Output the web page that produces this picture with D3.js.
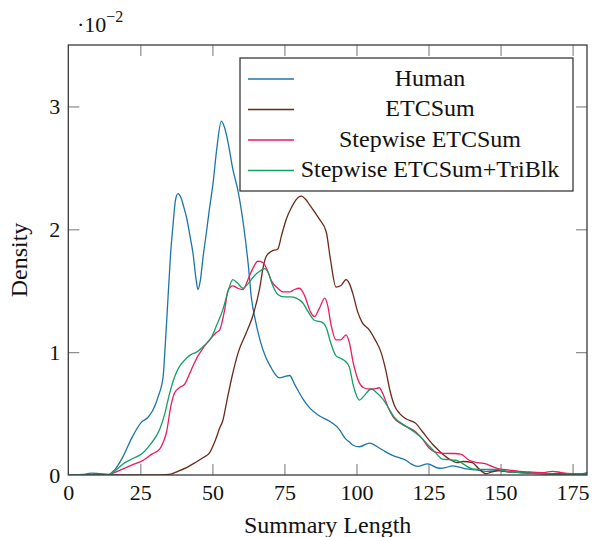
<!DOCTYPE html>
<html>
<head>
<meta charset="utf-8">
<script src="https://cdn.jsdelivr.net/npm/d3@7"></script>
<style>
  body { margin: 0; background: #fff; }
  svg text { font-family: "Liberation Serif", "Times New Roman", Times, "DejaVu Serif", serif !important; }
</style>
</head>
<body>
<div id="chart"></div>
<script>
// Density of summary lengths, pgfplots-style line chart.

const xTicks = [0, 25, 50, 75, 100, 125, 150, 175];
const yTicks = [0, 1, 2, 3];
const seriesNames = ['Human', 'ETCSum', 'Stepwise ETCSum', 'Stepwise ETCSum+TriBlk'];
const seriesColors = ['#1c75a8', '#6b2a18', '#ee1a5f', '#12a162'];

// Values in units of 10^-2.
const humanLength = [0, 5, 8, 11, 14, 16, 19, 22, 25.4, 27.7, 30, 31.2, 32.9, 33.5, 34.5, 35.5, 36.4, 37.2, 38.1, 39.2, 40.2, 41, 42.2, 43.3, 44.3, 45, 45.8, 46.8, 47.9, 49, 50.2, 51.5, 53.1, 54.2, 55.5, 57, 59, 61, 62.5, 63.5, 65, 66.5, 68.5, 70, 71.5, 73.3, 75, 76.8, 78.5, 81.4, 84, 87.2, 91.2, 94.1, 96, 97.5, 99, 101, 104.5, 107.9, 110, 112.5, 117.2, 119, 121.2, 124.7, 128.7, 131, 133.3, 138, 142, 145, 149.5, 153, 160, 170, 177, 180];
const humanDensity = [0, 0.005, 0.015, 0.01, 0.005, 0.04, 0.15, 0.3, 0.43, 0.47, 0.56, 0.64, 0.8, 1.0, 1.4, 1.8, 2.05, 2.24, 2.29, 2.25, 2.17, 2.1, 1.95, 1.8, 1.6, 1.51, 1.58, 1.78, 1.97, 2.17, 2.37, 2.65, 2.88, 2.83, 2.7, 2.5, 2.3, 2.0, 1.7, 1.45, 1.25, 1.1, 0.96, 0.89, 0.83, 0.79, 0.8, 0.81, 0.74, 0.62, 0.54, 0.48, 0.43, 0.37, 0.3, 0.27, 0.24, 0.23, 0.26, 0.22, 0.19, 0.16, 0.12, 0.09, 0.07, 0.09, 0.055, 0.06, 0.075, 0.05, 0.04, 0.03, 0.035, 0.025, 0.015, 0.01, 0.005, 0.02];

const etcLength = [0, 30, 35, 38, 41, 44, 46.7, 49, 51, 52.5, 53.7, 55, 57, 59, 61.8, 64.1, 66.4, 67.7, 68.7, 70.4, 72.7, 74, 75.6, 77.5, 79, 80.8, 82.5, 83.7, 85.5, 87.2, 89.5, 91, 92.9, 94.5, 96.4, 97.5, 98.7, 100.4, 102, 104.5, 106.5, 108.5, 110.2, 111.5, 113.1, 115, 117, 120.6, 123, 126.4, 129, 132.2, 135, 137, 140.2, 142.5, 144.9, 147, 149.5, 153, 159, 165, 172, 180];
const etcDensity = [0, 0, 0.005, 0.03, 0.06, 0.1, 0.14, 0.18, 0.28, 0.38, 0.45, 0.6, 0.82, 1.0, 1.16, 1.3, 1.52, 1.7, 1.78, 1.82, 1.84, 1.95, 2.08, 2.18, 2.24, 2.27, 2.24, 2.2, 2.14, 2.08, 1.98, 1.75, 1.53, 1.54, 1.59, 1.56, 1.48, 1.33, 1.24, 1.18, 1.1, 1.0, 0.85, 0.7, 0.57, 0.5, 0.46, 0.42, 0.35, 0.25, 0.19, 0.13, 0.1, 0.11, 0.1, 0.05, 0.01, 0.025, 0.035, 0.025, 0.02, 0.01, 0.01, 0.005];

const stepLength = [0, 14, 16, 19, 22, 26, 29, 31.7, 33, 34.1, 35.5, 36.9, 38.5, 40.4, 42, 43.5, 45, 47, 49, 51.4, 52.5, 54.3, 55.4, 57.1, 58.8, 60.6, 62.5, 64, 65.8, 67.5, 69, 70.5, 72.7, 74.5, 76.8, 78.5, 80.2, 82, 84, 85.4, 87, 89, 90, 91.2, 92.9, 94.5, 96.4, 97.5, 99, 101, 102.5, 104.5, 106, 107.9, 109, 111, 113.1, 116, 120.6, 123, 125.2, 128.7, 132, 134, 136.2, 139.1, 142, 144.9, 147, 149.5, 153, 156.5, 160, 165, 168, 171, 175, 180];
const stepDensity = [0, 0, 0.02, 0.05, 0.08, 0.12, 0.17, 0.21, 0.27, 0.35, 0.55, 0.67, 0.71, 0.74, 0.82, 0.9, 0.97, 1.04, 1.1, 1.16, 1.18, 1.35, 1.5, 1.54, 1.52, 1.51, 1.6, 1.68, 1.74, 1.73, 1.67, 1.58, 1.52, 1.49, 1.49, 1.51, 1.52, 1.46, 1.33, 1.29, 1.35, 1.44, 1.38, 1.22, 1.1, 1.1, 1.14, 1.08, 0.9, 0.75, 0.71, 0.7, 0.7, 0.71, 0.67, 0.55, 0.46, 0.41, 0.35, 0.29, 0.22, 0.18, 0.175, 0.175, 0.17, 0.12, 0.1, 0.09, 0.07, 0.05, 0.04, 0.03, 0.025, 0.02, 0.03, 0.02, 0.01, 0.005];

const triLength = [0, 14, 16, 19, 22, 25.4, 28.5, 31.7, 33.5, 35, 36.9, 38.5, 41, 42.5, 44.5, 47, 49.7, 51.5, 53.7, 55.5, 57.1, 58.8, 60.6, 62.5, 64.5, 66.5, 68.1, 69.5, 70.8, 72.7, 75, 77, 79.1, 81.4, 83.2, 85.4, 87, 88.3, 89.5, 91, 92.9, 94.5, 96.4, 97.5, 99, 101, 102.5, 105.1, 107, 109.1, 111, 113.1, 117, 121.8, 125, 127.5, 129.8, 132, 134.5, 137, 140.2, 144, 148.3, 152, 156.5, 165, 175, 180];
const triDensity = [0, 0, 0.03, 0.09, 0.13, 0.17, 0.25, 0.37, 0.5, 0.65, 0.8, 0.88, 0.95, 0.98, 1.0, 1.05, 1.12, 1.22, 1.35, 1.5, 1.59, 1.56, 1.52, 1.56, 1.62, 1.66, 1.68, 1.64, 1.55, 1.47, 1.45, 1.45, 1.44, 1.4, 1.33, 1.26, 1.25, 1.24, 1.2, 1.08, 0.97, 0.95, 0.92, 0.88, 0.72, 0.61, 0.64, 0.7, 0.67, 0.62, 0.55, 0.47, 0.4, 0.32, 0.24, 0.18, 0.13, 0.125, 0.12, 0.09, 0.05, 0.045, 0.045, 0.03, 0.02, 0.01, 0.005, 0.005];

const series = [
    { name: seriesNames[0], color: seriesColors[0], xs: humanLength, ys: humanDensity },
    { name: seriesNames[1], color: seriesColors[1], xs: etcLength, ys: etcDensity },
    { name: seriesNames[2], color: seriesColors[2], xs: stepLength, ys: stepDensity },
    { name: seriesNames[3], color: seriesColors[3], xs: triLength, ys: triDensity }
];

const width = 592;
const height = 537;
const margin = { top: 45, right: 5, bottom: 62, left: 68.3 };
const innerW = width - margin.left - margin.right;
const innerH = height - margin.top - margin.bottom;

const svg = d3.select('#chart')
    .append('svg')
    .attr('width', width)
    .attr('height', height);

const g = svg.append('g')
    .attr('transform', `translate(${margin.left},${margin.top})`);

const x = d3.scaleLinear().domain([0, 180]).range([0, innerW]);
const y = d3.scaleLinear().domain([0, 3.5]).range([innerH, 0]);

// Clip curves to the plot area.
svg.append('defs').append('clipPath')
    .attr('id', 'plot-clip')
    .append('rect')
    .attr('width', innerW)
    .attr('height', innerH);

// Axes with inward ticks on all four sides.
const tickLen = 11;
const tickColor = '#8a8a8a';
const fmt = d3.format('d');

const axisB = g.append('g')
    .attr('transform', `translate(0,${innerH})`)
    .call(d3.axisBottom(x).tickValues(xTicks).tickSize(-tickLen).tickPadding(9).tickFormat(fmt));
const axisT = g.append('g')
    .call(d3.axisTop(x).tickValues(xTicks).tickSize(-tickLen).tickFormat(''));
const axisL = g.append('g')
    .call(d3.axisLeft(y).tickValues(yTicks).tickSize(-tickLen).tickPadding(8).tickFormat(fmt));
const axisR = g.append('g')
    .attr('transform', `translate(${innerW},0)`)
    .call(d3.axisRight(y).tickValues(yTicks).tickSize(-tickLen).tickFormat(''));

[axisB, axisT, axisL, axisR].forEach(a => {
    a.attr('font-family', null);
    a.select('.domain').remove();
    a.selectAll('.tick line').attr('stroke', tickColor).attr('stroke-width', 1.2);
    a.selectAll('.tick text')
        .attr('fill', '#111')
        .style('font-size', '22px');
});

// Hide the tick marks at the very corners, like pgfplots.
axisB.selectAll('.tick').filter(d => d === 0).select('line').remove();
axisT.selectAll('.tick').filter(d => d === 0).remove();
axisL.selectAll('.tick').filter(d => d === 0).select('line').remove();
axisR.selectAll('.tick').filter(d => d === 0).remove();

// Curves.
const line = d3.line()
    .x(d => x(d[0]))
    .y(d => y(d[1]))
    .curve(d3.curveMonotoneX);

const curves = g.append('g').attr('clip-path', 'url(#plot-clip)');
series.forEach(s => {
    const pts = s.xs.map((v, i) => [v, s.ys[i]]);
    curves.append('path')
        .datum(pts)
        .attr('fill', 'none')
        .attr('stroke', s.color)
        .attr('stroke-width', 1.3)
        .attr('stroke-linejoin', 'round')
        .attr('d', line);
});

// Frame.
g.append('rect')
    .attr('width', innerW)
    .attr('height', innerH)
    .attr('fill', 'none')
    .attr('stroke', '#3a3a3a')
    .attr('stroke-width', 1.3);

// Scale factor label.
const factor = svg.append('text')
    .attr('x', 77)
    .attr('y', 32)
    .attr('fill', '#111')
    .style('font-size', '22px');
factor.append('tspan').text('·10');
factor.append('tspan')
    .attr('dy', -10)
    .style('font-size', '16px')
    .text('−2');

// Axis labels.
svg.append('text')
    .attr('x', margin.left + innerW / 2)
    .attr('y', 533)
    .attr('text-anchor', 'middle')
    .attr('fill', '#111')
    .style('font-size', '24px')
    .text('Summary Length');

svg.append('text')
    .attr('transform', `translate(27,${margin.top + innerH / 2}) rotate(-90)`)
    .attr('text-anchor', 'middle')
    .attr('fill', '#111')
    .style('font-size', '24px')
    .text('Density');

// Legend.
const legend = svg.append('g');
legend.append('rect')
    .attr('x', 240)
    .attr('y', 58)
    .attr('width', 333)
    .attr('height', 133)
    .attr('fill', '#fff')
    .attr('stroke', '#3a3a3a')
    .attr('stroke-width', 1.3);

series.forEach((s, i) => {
    const ly = 79 + i * 30.5;
    legend.append('line')
        .attr('x1', 248)
        .attr('x2', 294)
        .attr('y1', ly)
        .attr('y2', ly)
        .attr('stroke', s.color)
        .attr('stroke-width', 1.3);
    legend.append('text')
        .attr('x', 430)
        .attr('y', ly + 6.5)
        .attr('text-anchor', 'middle')
        .attr('fill', '#111')
        .style('font-size', '24px')
        .text(s.name);
});
</script>
</body>
</html>
